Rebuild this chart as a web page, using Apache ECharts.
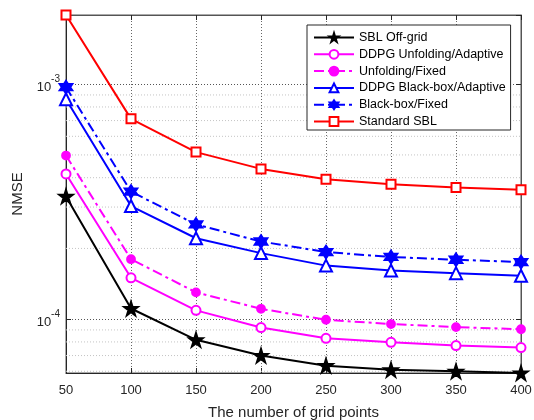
<!DOCTYPE html>
<html>
<head>
<meta charset="utf-8">
<script src="https://cdn.jsdelivr.net/npm/echarts@6/dist/echarts.min.js"></script>
<style>
html,body{margin:0;padding:0;background:#fff;}
#chart{width:534px;height:420px;}
</style>
</head>
<body>
<div id="chart"></div>
<script>
const xValues = [50, 100, 150, 200, 250, 300, 350, 400];
const seriesNames = ['SBL Off-grid', 'DDPG Unfolding/Adaptive', 'Unfolding/Fixed', 'DDPG Black-box/Adaptive', 'Black-box/Fixed', 'Standard SBL'];
const sblOffGrid = [3.33e-4, 1.11e-4, 8.17e-5, 7.0e-5, 6.34e-5, 6.09e-5, 6.0e-5, 5.9e-5];
const unfoldingAdaptive = [4.15e-4, 1.50e-4, 1.09e-4, 9.21e-5, 8.29e-5, 7.97e-5, 7.72e-5, 7.57e-5];
const unfoldingFixed = [4.97e-4, 1.80e-4, 1.30e-4, 1.107e-4, 9.94e-5, 9.53e-5, 9.25e-5, 9.06e-5];
const blackboxAdaptive = [8.63e-4, 3.03e-4, 2.21e-4, 1.91e-4, 1.69e-4, 1.61e-4, 1.57e-4, 1.53e-4];
const blackboxFixed = [9.71e-4, 3.49e-4, 2.53e-4, 2.14e-4, 1.93e-4, 1.84e-4, 1.79e-4, 1.75e-4];
const standardSBL = [1.97e-3, 7.12e-4, 5.14e-4, 4.36e-4, 3.94e-4, 3.75e-4, 3.63e-4, 3.55e-4];
const yMin = 5.9e-5, yMax = 1.97e-3;
const minorGrid = [6e-5, 7e-5, 8e-5, 9e-5, 2e-4, 3e-4, 4e-4, 5e-4, 6e-4, 7e-4, 8e-4, 9e-4];
const xTitle = 'The number of grid points';
const yTitle = 'NMSE';

const STAR5 = 'path://M100 0L122.45 69.1L195.1 69.1L136.3 111.8L158.8 180.9L100 138.2L41.2 180.9L63.7 111.8L4.9 69.1L77.55 69.1Z';
const STAR6 = 'path://M100 0L128.87 50L186.6 50L157.7 100L186.6 150L128.87 150L100 200L71.13 150L13.4 150L42.3 100L13.4 50L71.13 50Z';
const FONT = 'Liberation Sans, Arial, sans-serif';
const AXC = '#262626';
const dashDot = [10, 4, 3, 4];

function pts(arr) { return xValues.map((x, i) => [x, arr[i]]); }

function mk(name, arr, color, symbol, size, dash) {
  return {
    name: name, type: 'line', data: pts(arr), clip: false, z: 5,
    symbol: symbol, symbolSize: size, showAllSymbol: true,
    lineStyle: { color: color, width: 2, type: dash ? dashDot : 'solid' },
    itemStyle: { color: color, borderColor: color, borderWidth: 1.8 },
    emphasis: { disabled: true }
  };
}

const minorSeries = minorGrid.map(v => ({
  name: 'minor-' + v, type: 'line', silent: true, z: 1,
  data: [[xValues[0], v], [xValues[xValues.length - 1], v]],
  symbol: 'none',
  lineStyle: { color: '#c4c4c4', type: [1, 2], width: 1 },
  emphasis: { disabled: true }, tooltip: { show: false }
}));

const chart = echarts.init(document.getElementById('chart'), null, { renderer: 'canvas' });
const supFmt = function (v) {
  const e = Math.log10(v);
  if (Math.abs(e - Math.round(e)) < 1e-6) return '{b|10}{s|' + Math.round(e) + '}';
  return '';
};
chart.setOption({
  animation: false,
  backgroundColor: '#fff',
  textStyle: { fontFamily: FONT },
  grid: { left: 66, right: 13, top: 15, bottom: 47, show: true, borderColor: '#555', borderWidth: 1, containLabel: false, outerBoundsMode: 'none' },
  legend: {
    data: seriesNames,
    orient: 'vertical', left: 307, top: 25,
    itemWidth: 40, itemHeight: 11, itemGap: 3.8,
    padding: [6, 5, 2, 6],
    backgroundColor: '#fff', borderColor: AXC, borderWidth: 1,
    textStyle: { fontFamily: FONT, fontSize: 12.5, color: '#000' },
    selectedMode: false
  },
  xAxis: [{
    type: 'value', min: 50, max: 400, interval: 50, position: 'bottom',
    name: xTitle, nameLocation: 'middle', nameGap: 32,
    nameTextStyle: { fontFamily: FONT, fontSize: 15, color: AXC },
    axisLine: { show: true, lineStyle: { color: AXC } },
    axisTick: { show: true, inside: true, length: 5, lineStyle: { color: AXC } },
    axisLabel: { fontFamily: FONT, fontSize: 13, color: AXC, margin: 11 },
    splitLine: { show: true, lineStyle: { color: '#666', type: [1, 2], width: 1 } }
  }, {
    type: 'value', min: 50, max: 400, interval: 50, position: 'top',
    axisLine: { show: true, lineStyle: { color: '#555' } },
    axisTick: { show: true, inside: true, length: 5, lineStyle: { color: AXC } },
    axisLabel: { show: false }, splitLine: { show: false }
  }],
  yAxis: [{
    type: 'log', logBase: 10, min: yMin, max: yMax, position: 'left',
    name: yTitle, nameLocation: 'middle', nameGap: 31,
    nameTextStyle: { fontFamily: FONT, fontSize: 15, color: AXC },
    axisLine: { show: true, lineStyle: { color: AXC } },
    axisTick: { show: true, inside: true, length: 5, lineStyle: { color: AXC } },
    axisLabel: {
      formatter: supFmt, margin: 6, color: AXC,
      rich: {
        b: { fontFamily: FONT, fontSize: 13, color: AXC, padding: [6, 0, 0, 0] },
        s: { fontFamily: FONT, fontSize: 10, color: AXC, verticalAlign: 'top', padding: [0, 0, 6, 0] }
      }
    },
    splitLine: { show: true, lineStyle: { color: '#555', type: [1, 2], width: 1 } }
  }, {
    type: 'log', logBase: 10, min: yMin, max: yMax, position: 'right',
    axisLine: { show: true, lineStyle: { color: '#555' } },
    axisTick: { show: true, inside: true, length: 5, lineStyle: { color: AXC } },
    axisLabel: { show: false }, splitLine: { show: false }
  }],
  series: minorSeries.concat([
    mk(seriesNames[0], sblOffGrid, '#000000', STAR5, 14, false),
    mk(seriesNames[1], unfoldingAdaptive, '#ff00ff', 'emptyCircle', 9, false),
    mk(seriesNames[2], unfoldingFixed, '#ff00ff', 'circle', 8, true),
    mk(seriesNames[3], blackboxAdaptive, '#0000ff', 'emptyTriangle', 12, false),
    mk(seriesNames[4], blackboxFixed, '#0000ff', STAR6, 13, true),
    mk(seriesNames[5], standardSBL, '#ff0000', 'emptyRect', 9, false)
  ])
});
</script>
</body>
</html>
